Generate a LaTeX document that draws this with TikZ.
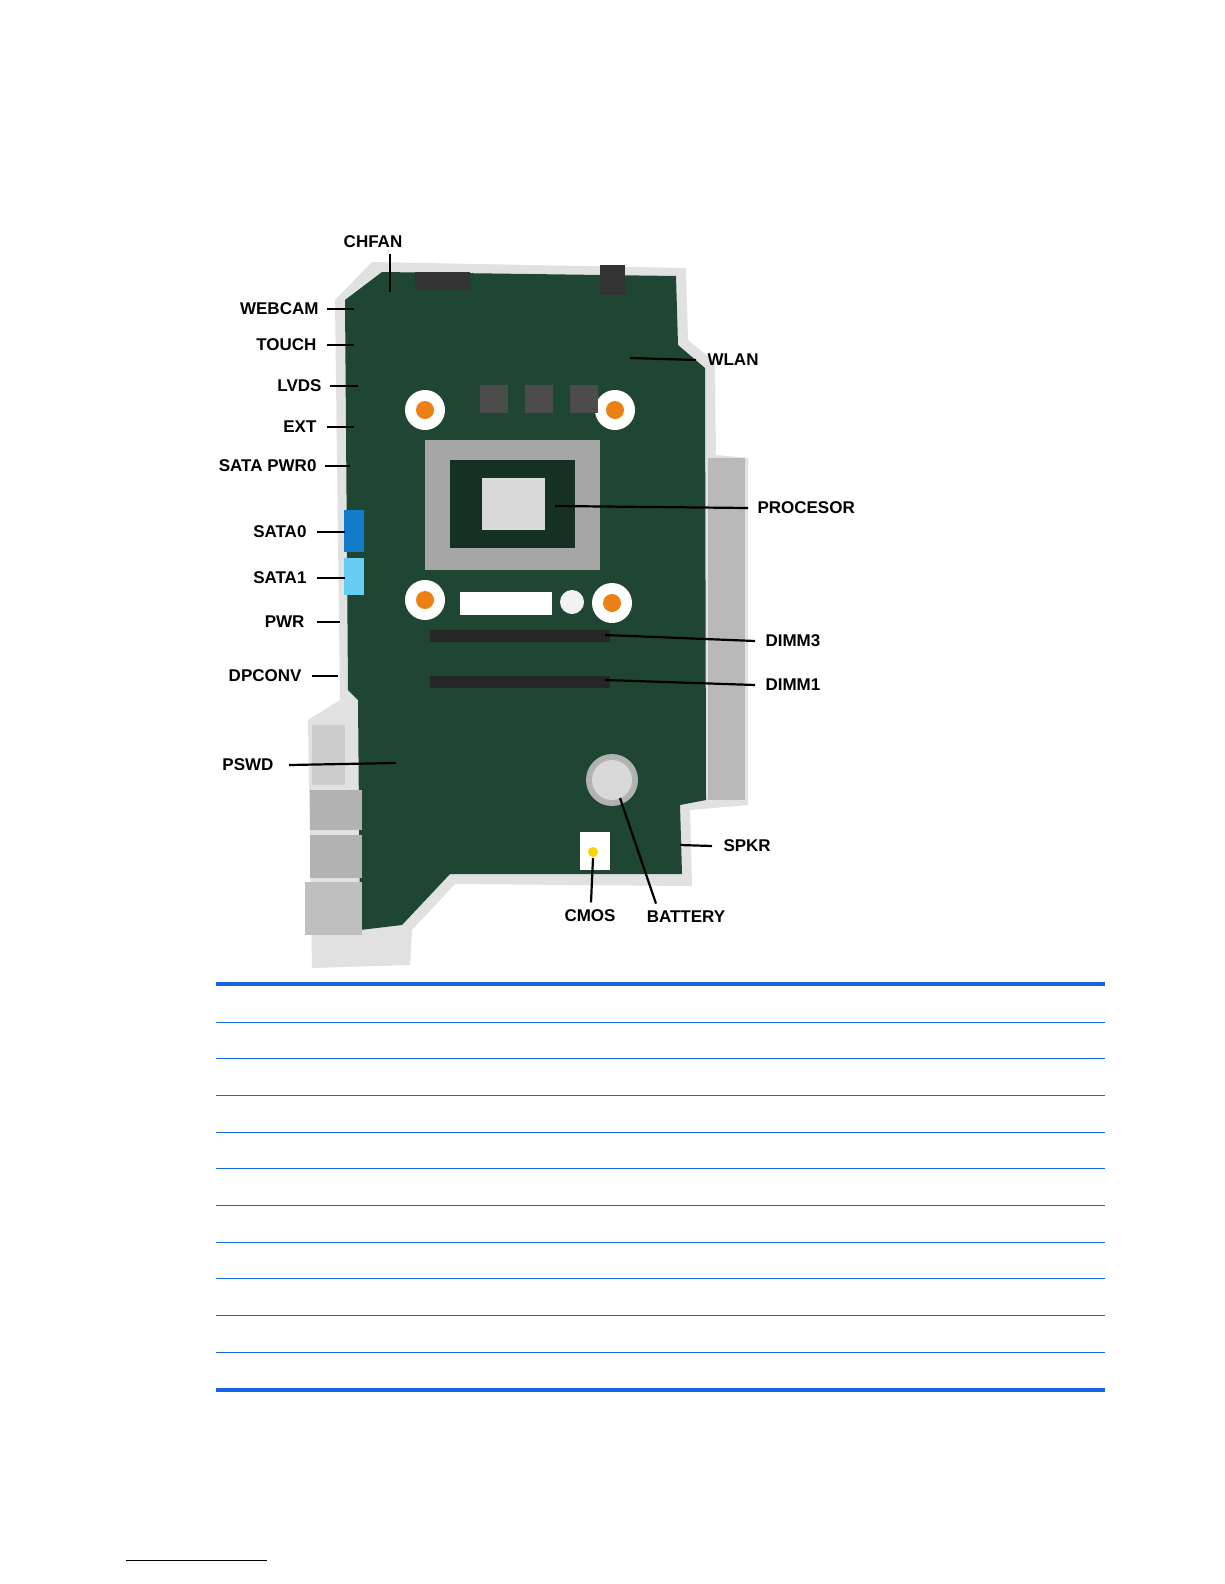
\documentclass[tikz,border=0pt]{standalone}
\usepackage{fontspec}
\setmainfont{Liberation Sans}
\begin{document}
\begin{tikzpicture}[x=1pt,y=-1pt,
  lbl/.style={font=\fontsize{17}{17}\selectfont\bfseries},
  lead/.style={line width=2.2pt},
  tblthick/.style={draw=tblue,line width=4pt},
  tblthin/.style={draw=tblue,line width=1pt}]
\definecolor{tblue}{RGB}{20,100,230}
\definecolor{pcb}{RGB}{30,70,50}
\definecolor{frame}{RGB}{225,225,225}
\useasboundingbox (0,0) rectangle (1224,1584);
% board frame
\fill[frame] (372,262) -- (686,268) -- (688,340) -- (715,362) -- (716,455) -- (748,458) -- (748,805) -- (690,810) -- (692,886) -- (455,884) -- (412,930) -- (410,965) -- (312,968) -- (308,720) -- (340,700) -- (335,300) -- cycle;
\fill[pcb] (382,272) -- (676,276) -- (678,345) -- (705,368) -- (706,800) -- (680,805) -- (682,874) -- (450,874) -- (402,925) -- (360,930) -- (358,700) -- (348,690) -- (345,300) -- cycle;
% metal bracket right
\fill[gray!55] (708,458) rectangle (745,800);
% ports lower left
\fill[gray!60] (310,790) rectangle (362,830);
\fill[gray!60] (310,835) rectangle (362,878);
\fill[gray!50] (305,882) rectangle (362,935);
\fill[gray!40] (312,725) rectangle (345,785);
% cpu socket
\fill[gray!70] (425,440) rectangle (600,570);
\fill[pcb!70!black] (450,460) rectangle (575,548);
\fill[gray!30] (482,478) rectangle (545,530);
% standoffs
\foreach \p in {(425,410),(615,410),(425,600),(612,603)}{
  \fill[white] \p circle (20); \fill[orange!70!brown] \p circle (9);}
% dimm slots
\fill[black!85] (430,630) rectangle (610,642);
\fill[black!85] (430,676) rectangle (610,688);
% chips
\foreach \x in {480,525,570}{\fill[black!70] (\x,385) rectangle ++(28,28);}
\fill[black!70] (470,510) rectangle ++(0,0);
% sata
\fill[cyan!60!blue] (344,510) rectangle (364,552);
\fill[cyan!60] (344,558) rectangle (364,595);
% top connectors
\fill[black!80] (415,272) rectangle (470,290);
\fill[black!80] (600,265) rectangle (625,295);
% battery
\fill[gray!60] (612,780) circle (26); \fill[gray!30] (612,780) circle (20);
\fill[white] (580,832) rectangle (610,870); \fill[yellow!70!orange] (593,852) circle (5);
% hp label
\fill[white] (460,592) rectangle (552,615);
\fill[white!90!gray] (572,602) circle (12);
% labels
\node[lbl] (chfan) at (373,242) {CHFAN};
\coordinate (chfanE) at (390,292); \draw[lead] (390,254) -- (chfanE);
\node[lbl,anchor=east] (webcam) at (322,309) {WEBCAM}; \draw[lead] (webcam.east)++(5,0) -- ++(27,0);
\node[lbl,anchor=east] (touch) at (320,345) {TOUCH}; \draw[lead] (touch.east)++(7,0) -- ++(27,0);
\node[lbl,anchor=east] (lvds) at (325,386) {LVDS}; \draw[lead] (lvds.east)++(5,0) -- ++(28,0);
\node[lbl,anchor=east] (ext) at (320,427) {EXT}; \draw[lead] (ext.east)++(7,0) -- ++(27,0);
\node[lbl,anchor=east] (satapwr) at (320,466) {SATA PWR0}; \draw[lead] (satapwr.east)++(5,0) -- ++(25,0);
\node[lbl,anchor=east] (sata0) at (310,532) {SATA0}; \draw[lead] (sata0.east)++(7,0) -- ++(28,0);
\node[lbl,anchor=east] (sata1) at (310,578) {SATA1}; \draw[lead] (sata1.east)++(7,0) -- ++(28,0);
\node[lbl,anchor=east] (pwr) at (308,622) {PWR}; \draw[lead] (pwr.east)++(9,0) -- ++(23,0);
\node[lbl,anchor=east] (dpconv) at (305,676) {DPCONV}; \draw[lead] (dpconv.east)++(7,0) -- ++(26,0);
\node[lbl,anchor=east] (pswd) at (277,765) {PSWD}; \coordinate (pswdE) at (396,763); \draw[lead] (pswd.east)++(12,0) -- (pswdE);
\node[lbl,anchor=west] (wlan) at (704,360) {WLAN}; \coordinate (wlanE) at (630,358); \draw[lead] (wlan.west)++(-8,0) -- (wlanE);
\node[lbl,anchor=west] (proc) at (754,508) {PROCESOR}; \coordinate (procE) at (555,506); \draw[lead] (proc.west)++(-6,0) -- (procE);
\node[lbl,anchor=west] (dimm3) at (762,641) {DIMM3}; \coordinate (d3E) at (605,635); \draw[lead] (dimm3.west)++(-7,0) -- (d3E);
\node[lbl,anchor=west] (dimm1) at (762,685) {DIMM1}; \coordinate (d1E) at (605,680); \draw[lead] (dimm1.west)++(-7,0) -- (d1E);
\node[lbl,anchor=west] (spkr) at (720,846) {SPKR}; \coordinate (spkrE) at (680,845); \draw[lead] (spkr.west)++(-8,0) -- (spkrE);
\node[lbl] (cmos) at (590,916) {CMOS}; \coordinate (cmosE) at (593,858); \draw[lead] (cmos.north)++(1,-4) -- (cmosE);
\node[lbl] (batt) at (686,917) {BATTERY}; \coordinate (battE) at (620,798); \draw[lead] (batt.north)++(-30,-4) -- (battE);
% table
\draw[tblthick] (216,984) -- (1105,984);
\foreach \y in {1022,1058,1095,1132,1168,1205,1242,1278,1315,1352}{\draw[tblthin] (216,\y) -- (1105,\y);}
\draw[tblthick] (216,1390) -- (1105,1390);
\draw[line width=0.8pt] (126,1560) -- (267,1560);
\end{tikzpicture}
\end{document}
